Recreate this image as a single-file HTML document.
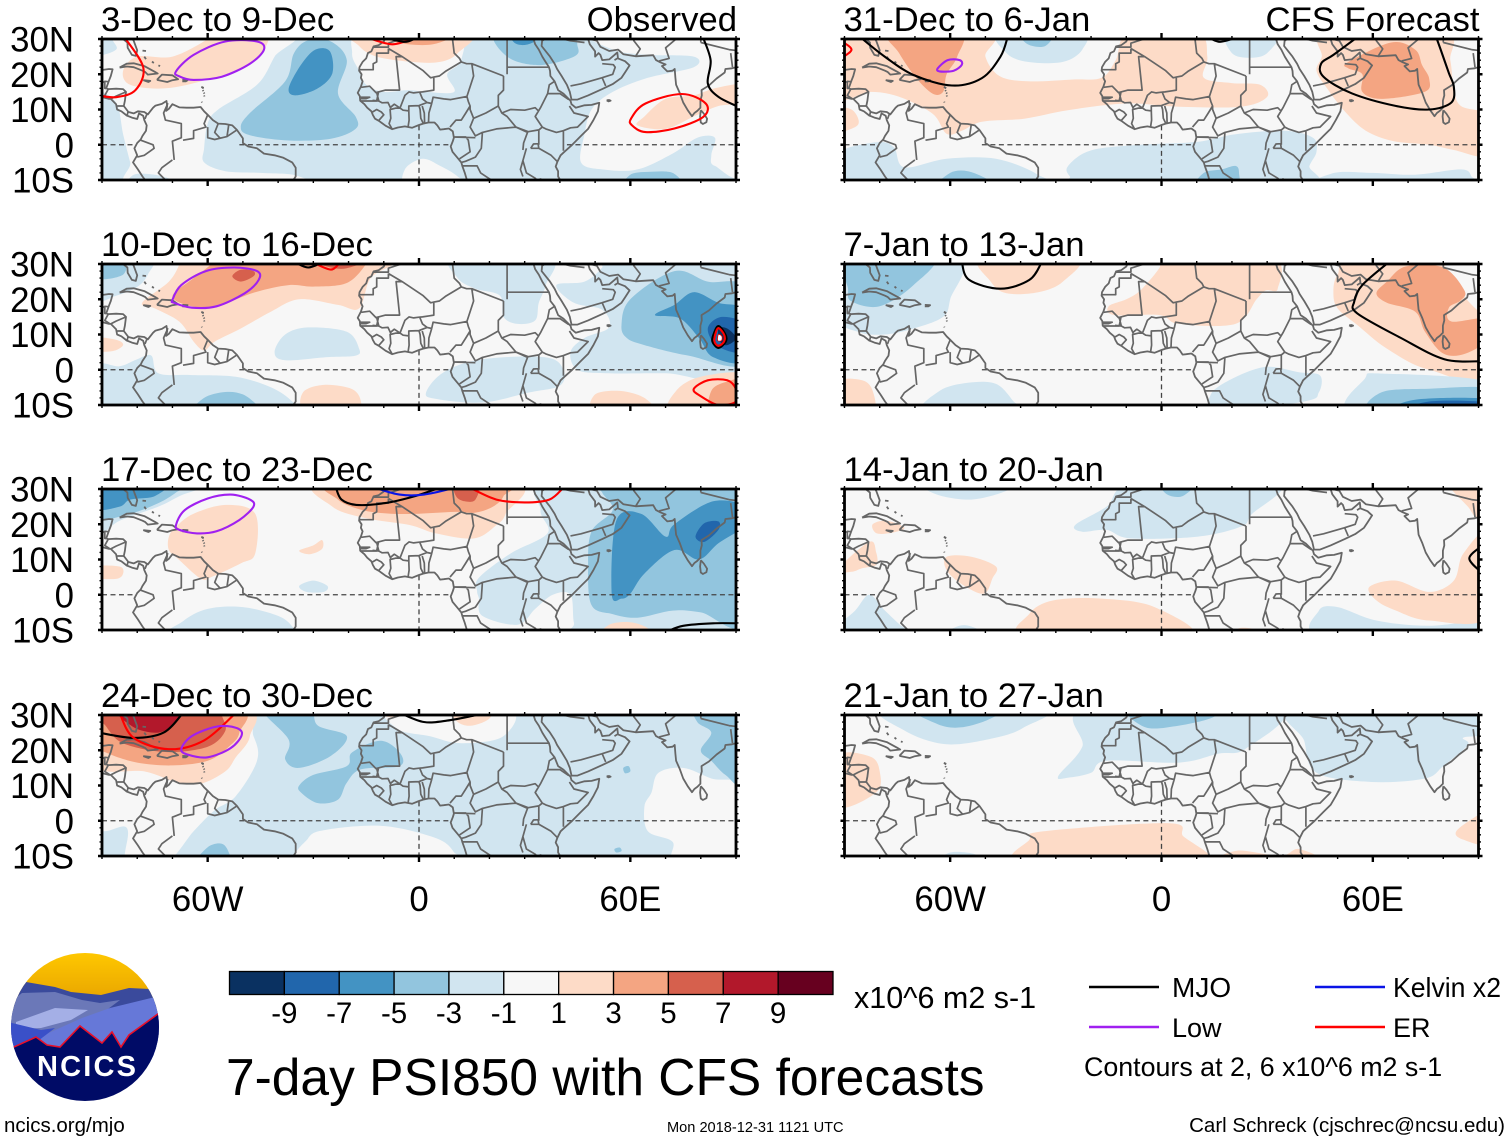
<!DOCTYPE html>
<html lang="en">
<head>
<meta charset="utf-8">
<title>7-day PSI850 with CFS forecasts</title>
<style>
html,body{margin:0;padding:0;background:#fff;}
svg{display:block;font-family:"Liberation Sans",sans-serif;}
</style>
</head>
<body>
<svg id="chart" xmlns="http://www.w3.org/2000/svg" width="1510" height="1142" viewBox="0 0 1510 1142">
<defs>
<linearGradient id="skyGrad" x1="0" y1="0" x2="0" y2="1"><stop offset="0" stop-color="#ffc800"/><stop offset="1" stop-color="#e39c00"/></linearGradient>
<clipPath id="logoClip"><circle cx="85" cy="1027" r="74"/></clipPath>
</defs>
<g id="panels"></g>
<g id="colorbar"></g>
<text x="854" y="1008" font-size="30.5">x10^6 m2 s-1</text>
<text x="226" y="1095" font-size="51.5">7-day PSI850 with CFS forecasts</text>
<g>
<line x1="1089" x2="1159" y1="987" y2="987" stroke="#000" stroke-width="2.4"/>
<text x="1172" y="997" font-size="28">MJO</text>
<line x1="1315" x2="1385" y1="987" y2="987" stroke="#0a14e6" stroke-width="2.4"/>
<text x="1393" y="997" font-size="28" textLength="108" lengthAdjust="spacingAndGlyphs">Kelvin x2</text>
<line x1="1089" x2="1159" y1="1027" y2="1027" stroke="#a020f0" stroke-width="2.4"/>
<text x="1172" y="1037" font-size="27">Low</text>
<line x1="1315" x2="1385" y1="1027" y2="1027" stroke="#ff0000" stroke-width="2.4"/>
<text x="1393" y="1037" font-size="27">ER</text>
<text x="1084" y="1076" font-size="26.8">Contours at 2, 6 x10^6 m2 s-1</text>
</g>
<g clip-path="url(#logoClip)">
<rect x="10" y="952" width="150" height="60" fill="url(#skyGrad)"/>
<polygon points="10,1000 26,982 55,987 71,992 101,995 129,988 150,989 162,1000 162,1060 10,1060" fill="#3a4a9c"/>
<polygon points="8,1004 22,993 55,992 82,1000 100,1003 120,1000 100,1015 60,1035 8,1042" fill="#6b78b8"/>
<polygon points="162,996 151,998 110,1008 82,1018 33,1040 8,1052 162,1060" fill="#6678d8"/>
<polygon points="16,1022 55,1008 88,1010 71,1020 41,1028 16,1029" fill="#a4afe6"/>
<polygon points="8,1022 41,1030 55,1028 30,1047 8,1050" fill="#3a50c8"/>
<polygon points="8,1047 14,1047 36,1037 47,1045 60,1047 80,1026 102,1043 112,1032 121,1047 129,1035 162,1011 162,1104 8,1104" fill="#000b66" stroke="#e8102a" stroke-width="1.6"/>
<text x="37" y="1076" font-size="29" font-weight="bold" fill="#fff" textLength="99" lengthAdjust="spacing">NCICS</text>
</g>
<text x="4" y="1132" font-size="20.5">ncics.org/mjo</text>
<text x="667" y="1132" font-size="14.6">Mon 2018-12-31 1121 UTC</text>
<text x="1505" y="1132" font-size="20.5" text-anchor="end">Carl Schreck (cjschrec@ncsu.edu)</text>
</svg>
<script>
/* ---------- axis / label data ---------- */
const lonTickLabels = [[-60,'60W'],[0,'0'],[60,'60E']];
const latTickLabels = [[30,'30N'],[20,'20N'],[10,'10N'],[0,'0'],[-10,'10S']];
const colorbarTicks = [-9,-7,-5,-3,-1,1,3,5,7,9];
const binValues = [-10,-8,-6,-4,-2,0,2,4,6,8,10];
const periodLabels = ['3-Dec to 9-Dec','10-Dec to 16-Dec','17-Dec to 23-Dec','24-Dec to 30-Dec','31-Dec to 6-Jan','7-Jan to 13-Jan','14-Jan to 20-Jan','21-Jan to 27-Jan'];

/* ---------- PSI850 shading: [bin value x10^6, lon,lat pairs]. Painted in order ---------- */
const shadeP1 = [
[-2,[-95,35,95,35,95,-15,-95,-15]],
[0,[-83,32,-37,32,-41,25,-46,17,-57,10,-60,6,-61,-1,-61,-5,-55,-7.5,-45,-8,-35,-8.7,-33,-12,-80,-12,-82,-5,-84,3,-86,12,-92,17,-92,24,-86,27]],
[-2,[-82,-12,-81,-8.5,-75,-8.5,-70,-10,-68,-12]],
[0,[-16,32,10,32,12,24,8,20,10,15,2,15,-3,15.5,-10,15,-15,17,-17,21,-19,26]],
[0,[-4,-7,1,-4,6,-6,11,-9,13,-12,-3,-12]],
[0,[50,32,55,27,65,25.5,78,25,78,22,65,19,55,15,49,10,47,3,46,-5,52,-7,62,-7,72,-2.5,79,2,84,2,83,-3,84,-6,93,-7,93,32]],
[2,[-84,21,-80,25,-70,25,-60,30,-59,32,-44,32,-44,27,-50,22,-60,18.5,-72,16,-82,17]],
[2,[-18,32,-17,28,-12,25,-2,23.5,6,23.5,11,26,14,32]],
[4,[-10,32,-6,29,4,28.5,10,32]],
[2,[64,8,62,5.5,70,4.5,78,8,85,11,92,12,92,17,84,16,78,14,70,13]],
[-4,[-50.6,5,-48,9,-38,18,-35.5,26,-31.5,29.6,-25,29.3,-20.5,24,-23,14.5,-18,8,-18,4.5,-25,1.7,-37,1.2,-48,2.7]],
[-6,[-37,16,-33.5,22.7,-29.4,27,-25.3,26.5,-24.6,20.3,-28.7,16,-35,14]],
[-4,[22,32,25,25,34,22.6,44,25,45,28,42,32]],
[-6,[26,32,27,29,30,28.3,33,29.5,33,32]],
[-4,[59,-12,60,-8.5,65,-7.7,72,-8,74,-12]]
];
const shadeP2 = [
[-2,[-92,32,-76,32,-77,27,-80,23.5,-86,21,-92,20]],
[-4,[-92,32,-84,32,-84,27,-92,26]],
[-2,[-92,1,-85,1,-80,3,-76,4,-74,-1,-65,-1.5,-52,-2,-42,-5,-36,-9,-35,-12,-92,-12]],
[-4,[-63,-12,-61,-8,-55,-6.3,-50,-7,-46,-10,-45,-12]],
[-2,[-41,5,-38,10,-31.5,12,-20.5,10.8,-17,6,-18,4,-26,3.6,-38,2.7]],
[-2,[10,32,11,26,16,23,23,21,24,15,28,13,33,14,34,19,36,24,37,32]],
[-2,[39,24,47,25,52,29,53,32,93,32,93,-1.5,70,-1,53,-1,45,0,43,5,47,9,54,12,52,17,44,19]],
[-2,[2,-6.5,7,-0.7,18,3,36,3.5,41,0,40,-4.5,31.5,-6.4,18,-9.3,5,-8.3]],
[-4,[57.5,12.6,60,20,72.5,28,82,25,93,23,93,2,76.5,4,64,7,59,9]],
[-6,[67,15.5,72.5,18.4,78,22,85,19,93,16.5,93,2.7,83.5,3.6,79.5,9,74,14.6]],
[-8,[82,11.7,86,15,93,12.7,93,5,85,6.5]],
[-10,[85,11.7,87.5,11.7,90,9,87.5,7,85.5,8]],
[2,[-78.6,19,-71,25,-68,30,-68,32,-6,32,-7,30,-13.7,26,-17,17.4,-23,18.4,-34,20,-42,16.5,-50.6,11.7,-58,8,-61,5.5,-64,8,-68,13.6,-75,17.4]],
[4,[-70,20.8,-64,26,-59,30,-59,32,-15,32,-15,30,-20.5,24.6,-30,23.6,-37,24,-46.5,22,-57.5,18,-64.5,18]],
[6,[-53,26.5,-50.6,28.4,-47,28,-47,26.5,-50.6,25]],
[6,[-30,31,-25,29,-20.5,28.8,-16,31]],
[2,[-92,9,-86,8.5,-84,7,-87,5.3,-92,5.5]],
[2,[-33,-6.5,-27,-4.3,-19,-5.5,-16.5,-9,-18,-12,-32,-12]],
[2,[50,-12,50,-7,57,-6,64,-8,66,-12]],
[2,[72,-12,73,-6,80,-2,93,-1.5,93,-12]],
[4,[83,-12,83,-6,87,-3.5,93,-3,93,-12]]
];
const shadeP3 = [
[-2,[-92,32,-60,32,-68,28,-74,25,-85,21,-92,17]],
[-4,[-92,32,-66,32,-69,29,-74,26,-82,23,-92,21.7]],
[-6,[-92,32,-72,32,-75,28,-82,27,-85,25,-92,24.5]],
[-2,[-70,-12,-67,-7.5,-60,-4,-50,-3.5,-40,-6,-36,-9,-35,-12]],
[-2,[-34,2.5,-30,4,-26,2.5,-27,0.8,-32,0.8]],
[-2,[38,32,34.5,24,36.5,17.5,26,11.7,17,4.8,16.5,1,17,-1,18,-6,28,-8.5,33,-4,38,0,43,0,44,-8,46,-12,93,-12,93,32]],
[-4,[49,-3,48,8,49,18,55,24,52,29,52,32,93,32,93,-7.5,80,-5,72,-4.5,62,-6.5,55,-5.5]],
[-6,[54.7,0.3,56,21,63,23,70,16.5,72.5,20,83.5,26.5,93,25,93,20,85,14.6,79.5,10,72.5,12.7,64,6,60,0.3,57.5,-1.1]],
[-8,[78.5,16.5,81,20.3,85,20.8,85,18.4,81,15]],
[2,[-71,16.5,-69,19.3,-64,23,-54.7,25.5,-46.5,23,-46.5,11.7,-50.6,8.9,-59,5,-62,4.6,-68,9.8,-71,12.7]],
[2,[-34,12.5,-30,14,-27.5,15.5,-27.5,13,-31,11.5]],
[2,[-92,8,-85,8,-84,6,-86,4.5,-92,5]],
[2,[-27,32,-24.6,25,-15,21.7,-2.7,19.8,4.8,17.4,15.7,16,22,19.8,24.6,23,26.7,32]],
[4,[-24,32,-23,27,-16,24,-8,23,0,23,10,23.5,16,23.3,21,25,24,28,24,32]],
[6,[10,32,10.5,28,13,26.5,16,27,17,32]],
[2,[52,-12,54,-8.5,60,-7.8,65,-9.5,66,-12]]
];
const shadeP4 = [
[-2,[-95,35,95,35,95,-15,-95,-15]],
[0,[-52,32,-47,24,-46,17,-52,7,-58,3,-64,-3,-72,-12,-83,-12,-83,-2,-92,-0.5,-92,32]],
[0,[-32,-12,-31.5,-5,-26,-2.5,-10,-1.5,5,-5,10,-9,10.5,-12]],
[0,[68,13.6,75,15,83,12,93,9,93,-12,73,-12,72,-6,65,-3,64,4,66,8]],
[0,[-8,32,-6,26,3,24,12,22,24,24,25,32]],
[-4,[-44.5,32,-37,23,-38,17.4,-34,15,-25,18.4,-20.5,24,-28.7,27,-31.5,32]],
[-4,[-34,10,-30,13,-20.5,15.5,-19,19.4,-11,22.7,-5.5,19.4,-5.5,15.5,-16.4,14.6,-20.5,10.8,-23,6,-28.7,5,-33.5,8]],
[-4,[79,32,79,28,83,25,80,20,83,17,87,13,93,10,93,32]],
[-4,[58,15,59.5,15.5,60,14,58.5,13.5]],
[-4,[-63,-12,-60,-7.5,-56,-6.5,-54,-9,-54,-12]],
[-4,[55.5,-8,57,-7.6,57.5,-8.6,56,-9]],
[2,[-92,32,-50,32,-48,24,-52,18,-55,14,-62,10.5,-69,11,-78,14,-92,15.5]],
[4,[-92,32,-52,32,-51,25,-54,21,-60,17,-70,15.7,-80,16.5,-88,19,-92,22]],
[6,[-89,27,-84,22,-72,19.5,-60,21,-55,25.5,-56,30,-56,32,-92,32]],
[8,[-85.5,32,-81,26.5,-74,25,-70,27.5,-68,32]],
[2,[9,32,11,28,15,27,20,29,20,32]],
[2,[-11,32,-9,29.5,-5,30,-5,32]]
];
const shadeF1 = [
[2,[-92,32,-50,32,-50,25,-46,19.5,-38,18,-25,18.5,-17,19,-13,24,-9,32,10,32,13,25,12,19,20,17.5,28,17,30,13.6,22.7,10.8,5,10.8,-10,11.7,-26.6,9.8,-39,7.4,-51,6.5,-56.7,4,-61,3.1,-65,8.8,-74.5,13.6,-82.7,15,-92,13.6]],
[2,[-92,10,-88,10,-86,7,-87,5,-92,4]],
[2,[45.5,25,47,32,80,32,82,24,83,16,85,11,93,8,93,-3,83,-1.5,76,0,66,1,58,4,52,9.5,47,16,44,21]],
[4,[52.9,23.4,65.2,29,72,27,74,22.6,76,18.7,74.7,15,62.5,13,57,15,57,20,53,21.7]],
[4,[-77.3,32,-74.5,26,-69.7,19,-65,14.5,-62,15,-61,20,-58,25,-57.4,32]],
[-2,[-46,32,-44,26,-38,23.5,-28,23.5,-22.5,27,-23,32]],
[-4,[-40,32,-38,28.5,-33,28,-31,32]],
[-2,[18.6,32,20,26,25,24.7,30,26,33,32]],
[-2,[-92,-2.6,-81,0.7,-76,-0.7,-73,-6.4,-61,-4,-47,-4,-35.5,-8.3,-35,-12,-92,-12]],
[-4,[-63,-12,-60,-8,-55,-7.5,-49,-10,-48,-12]],
[-2,[-26.5,-6,-20,-1.6,-6,0,10,0.8,21,3,35,4,43,2,44,-2,42,-6,40,-12,-22,-12,-26,-9]],
[-4,[10,-12,12,-8,17,-7,21,-6,22,-8,21,-12]],
[-2,[45,-12,49,-8,60,-8,72,-8.5,85,-7,88,-9,88,-12]]
];
const shadeF2 = [
[-2,[-92,32,-58,32,-60,20,-62,15,-70.4,11.7,-78.6,10,-86,10.7,-92,15]],
[-4,[-89,32,-89,23,-88,19.4,-80,18,-70.4,24,-65,32]],
[2,[-51,32,-48.5,25,-44,21.7,-35,22,-28,25,-24,32]],
[2,[-15,18,-10,20,-6,22.5,-0.5,29,0,32,31,32,33,23,29.6,22.5,27,20,21,13,5,13,-0.5,15.5,-13.5,15.5]],
[2,[48.8,22,50,27,55.6,32,93,32,93,-1,76,0,64,6,55.6,12.7,50,17.4]],
[0,[80,33,85,22,93,16,93,33]],
[4,[61,21.7,64,25,69.3,29.3,80,29,86,22.5,85,19.7,81.6,17.6,82.3,13.7,93,14.6,93,9,86.4,4.6,80,4.6,74.8,10.8,72,16.5,64,19]],
[2,[-92,-12,-92,-3.5,-85,-3,-82,-6,-82,-12]],
[-2,[-67,-12,-63,-6,-55,-3.7,-47,-4,-42,-9,-40,-12]],
[-2,[14,-7,20,-2.6,29.6,0.8,39,-0.7,45,-1.6,44.7,-6.4,40.5,-9,16,-12]],
[-2,[54,-12,57.7,-2.6,62.5,-1.1,93,-3.5,93,-12]],
[-4,[60.4,-12,62.5,-6.4,76,-5.4,93,-5.4,93,-12]],
[-6,[66.6,-12,72,-8.5,93,-8.3,93,-12]],
[-8,[70,-12,76,-9,93,-9.3,93,-12]]
];
const shadeF3 = [
[-2,[-67,32,-64,28.5,-54,27,-44,29.5,-43,32]],
[-2,[-24.5,19.8,-15.6,25,-7,32,33,32,25.5,22.7,22.7,19.4,10.4,16.5,-8.8,16,-15.6,18.4,-22.5,17.9]],
[-4,[0,32,1.5,28.5,6,28,9.5,32]],
[2,[-82,20,-78,21,-73,19,-77,17.5,-81,17.5]],
[2,[-92,7,-83,15,-81,12,-81,8.5,-85,7.5,-88,6.5]],
[2,[-61,10.8,-54,10.8,-47,8,-48,4.6,-50.5,0.3,-56.7,3,-61,7]],
[2,[-38,-12,-37.5,-5.4,-30.7,-1.6,-17,-1.1,-2,-3.5,7.7,-12]],
[2,[20,-12,22,-9.5,27,-10,27,-12]],
[-2,[-92,-9,-87,-4.5,-83,0,-79,-4,-74.5,-8.3,-70.5,-12,-92,-12]],
[-2,[-62,-12,-58,-9,-54,-9,-49,-12]],
[-2,[44.7,-4.5,50,-3.5,61,-7.3,76,-8.8,93,-7.3,93,-12,46,-12]],
[2,[59,2.2,66.6,4,76,0.8,83,4,85.7,11.7,93,17.4,93,-6,76,-7.3,66.6,-4.5,61,-1.6]],
[2,[81.6,32,87,25,90,22,93,32]]
];
const shadeF4 = [
[-2,[-78,32,-73,25.6,-61,21.7,-47,23.6,-39,26.5,-33.4,32]],
[-4,[-70,32,-63.5,27.4,-56.7,26.5,-48.5,29,-46,32]],
[-2,[-29.3,12.7,-22.5,21,-21,32,33,32,24,20.5,16,19,5,16.5,-15.6,17,-20,13.6,-26.6,12.2]],
[-4,[-8.8,32,-4.6,26.5,5,27,14.5,29.3,16,32]],
[-2,[38.5,32,40.5,22.7,44,13.6,59.7,11,74.8,12,80,15.5,87,21.5,85.7,23.6,93,25,93,32]],
[2,[-92,4,-92,18.2,-82.7,18.2,-80,14,-81,8]],
[-2,[-63,-12,-60,-9,-53,-9.5,-52,-12]],
[2,[-39,-12,-37.5,-5.4,-33.4,-3,2.2,-0.7,6.3,-4.5,13.2,-9.3,14,-12]],
[2,[16.5,-12,21.4,-8.5,33.7,-10,39,-8,45,-12]],
[2,[83.7,-3,90,1.7,93,3,93,-6.5,85.8,-5.4]]
];
const panelShades = [shadeP1,shadeP2,shadeP3,shadeP4,shadeF1,shadeF2,shadeF3,shadeF4];

/* ---------- wave contours: [wave, closed, lon,lat pairs] ---------- */
const contourP1 = [
['er',0,[-84,31,-78.3,22,-80.5,15.5,-86,13.5,-91,14]],
['low',1,[-69,20.8,-64,25.5,-55,29.3,-46,29.3,-44,27,-48,23,-56,19.3,-64,18.4,-68,19.4]],
['er',0,[-14.4,30.3,-7.5,28.5,-1.4,30.3]],
['mjo',0,[-9,30.2,-4,29.2,-1,30.2]],
['er',1,[60.2,7.4,64.3,11.7,74.6,14.4,81.4,11.7,80.7,7.9,72.5,4.6,64.3,3.6,60.5,5.5]],
['mjo',0,[80.4,31,82.8,24,82,17.4,85,13.6,91,10.6]]
];
const contourP2 = [
['low',1,[-70,19.8,-67.5,24,-60.5,28,-52.5,29,-46,28,-45.5,25.5,-49.5,21.7,-57.5,18,-64.5,17.6,-69.5,19]],
['mjo',0,[-35,30.4,-31.5,29,-27.5,30.4]],
['er',0,[-30,30.4,-25,28.4,-22.5,30.4]],
['er',1,[78,-5.5,82,-3,87.5,-3,90,-5.5,90,-9,85,-10,80,-7.5]],
['mjo',1,[85,12.4,87,10,87.1,8,85,6.2,83.3,8,83.6,10]],
['er',1,[85,11.8,86.6,10,86.6,8,85,6.8,83.9,8,84.1,10]],
['white',1,[85,10,86,9.5,85.9,8.3,84.8,8.3]]
];
const contourP3 = [
['low',1,[-69,19.8,-66.5,24,-60,27.3,-53.5,28.4,-48,27,-47,25,-51,21.2,-57.5,18,-63,17.4,-68,18.4]],
['mjo',0,[-23.6,30.4,-22,27,-17.8,25.5,-9.6,26,-1.4,27.9,6,30.4]],
['kelvin',0,[-12.3,30.3,-5.5,28.4,1.4,28.4,10,30.3]],
['er',0,[14.4,30.4,22,27,30,26.2,37,27,41,30.4]],
['mjo',0,[70.5,-10.4,75,-8.8,83.5,-8.1,91,-8.1]]
];
const contourP4 = [
['mjo',0,[-91,25,-81,23.5,-72.5,25,-67,30.6]],
['er',0,[-85,30.6,-81,23.5,-71,20.3,-61,22.8,-52,30.6]],
['low',1,[-67.5,20.3,-64.5,24,-57.5,26.7,-52,26.4,-50.3,24.4,-53.5,20.6,-60,18,-65.5,18.7]],
['mjo',0,[-4.8,30.3,1.4,28,8,28.4,16,29.9]]
];
const contourF1 = [
['er',0,[-91,29.5,-88,27,-91,24.5]],
['mjo',0,[-85.5,30.5,-78.6,25,-70.4,19.8,-59.5,16.8,-51,18.9,-45.7,25,-43.7,30.5]],
['low',1,[-63.5,21.7,-60.7,24,-57.3,24,-56.7,22.7,-59,21,-63,20.8]],
['mjo',0,[13.8,30.2,16.6,29.2,20.7,30.2]],
['mjo',0,[55.6,30.5,48.8,25.5,45.3,23,46,19.3,54,14.6,66.6,11,76,10,82.3,12,83,16.5,81.6,20.3,79.6,26,78,30.5]]
];
const contourF2 = [
['mjo',0,[-56.7,30.5,-54.6,25.5,-45.7,23,-37.5,25.5,-34,30.5]],
['mjo',0,[64.5,30.5,57,24,54.7,19.3,55.6,16,68,9,80.3,3,91,2.4]]
];
const contourF3 = [
['mjo',0,[91,13.9,87.4,10.3,91,6.2]]
];
const contourF4 = [];
const panelContours = [contourP1,contourP2,contourP3,contourP4,contourF1,contourF2,contourF3,contourF4];

/* ---------- geography: lon,lat polylines ---------- */
const coastLines = [
[-9.7,30,-10,29.3,-11.5,28.2,-12.9,27.9,-13.5,26.5,-14.5,26,-15,24.5,-16,23.5,-16.9,22,-17,21,-16.3,20,-16.5,19,-16,18,-16.5,16.5,-17.4,14.7,-16.8,13.8,-16.7,12.5,-15.5,11.5,-14.7,10.5,-13.5,9.5,-13.1,8.4,-12.5,7.4,-11.4,6.8,-9.5,5.4,-7.6,4.4,-6,4.9,-4,5.2,-2,4.8,0,5.6,1.2,6,2.7,6.3,4.4,6.3,5.2,5.5,6,4.3,7,4.4,8.5,4.6,9.6,3.8,9.9,2,9.6,1,9,-0.5,9.5,-2,11,-3.8,12,-5,12.3,-6,13,-8,13.6,-10,13.8,-11],
[32.5,30,33,28.5,34,27,35,25,35.7,23.9,36.9,22,37.2,21,37.3,19.5,38.5,18,39.5,15.5,41,14.5,43,12.5,43.3,11.5,44.5,10.5,47,11.2,49,11.3,51.2,11.9,50.8,9.5,49.5,7,48,4.5,46,2.5,43.5,0,41.5,-1.8,40.2,-3,39.3,-4.8,38.8,-6.2,39.5,-7.5,39.5,-9,40.4,-10.5,40.6,-11],
[35,30,34.8,28,36,26.5,37.2,25,38.5,23,39.2,21.5,40.5,19.5,42,17,42.8,15,43.3,12.8,45,12.8,48,14,52,15.8,55,17.2,57.5,19,58.5,20.5,59.8,22.5,58.5,23.7,56.5,24.5,56.3,26.2,55.5,25.5,54,24.2,52,24,51.5,25.5,51,26,50,25,50,26.5,48.5,28.5,48,30],
[48.5,30,50.5,29.5,51.5,27.8,54,26.6,56.5,27,58,25.7,61.5,25.1,66.5,25.4,67.3,24,68.5,23.4,70,22.8,69,22.3,70.5,20.8,72,21,72.6,21.5,72.8,19,73,17,74,14.8,75,12,76.3,9.8,77.5,8.1,78.2,9,79,9.6,79.9,10.5,79.9,12.5,80.3,14,80.2,15.5,82.3,16.8,84.5,18.8,86.8,20.5,87,21.5,88.9,21.7,90,22,91,22.6],
[80,9.8,80.9,8.8,81.8,7.4,81.6,6.4,80.6,5.9,80,6.3,79.8,8,80,9.8],
[53.3,12.6,54,12.7,54.4,12.5,53.8,12.3,53.3,12.6],
[-91,21,-90,21.2,-88,21.5,-87,21.4,-87.5,19.5,-88,18.2,-88.8,16,-88.2,15.8,-86,15.9,-84,15.8,-83.2,15,-83.5,12.5,-83.8,11,-82.5,9.3,-81,8.9,-79.8,9.5,-78,9.3,-77,8.6,-75.5,10.5,-74.8,11.1,-73,11.6,-71.7,12.4,-71.5,11,-71.8,9.6,-71,10.2,-70,11.5,-68,10.6,-66,10.5,-64,10.5,-62,10.7,-61,9.5,-60,8.5,-58.5,7,-57,6,-55,5.9,-53,5.5,-51.7,4.2,-50,1.8,-50,0.5,-48.5,-0.5,-46,-1,-44,-2.5,-41,-3,-38.5,-3.7,-36,-5,-35,-6.5,-35,-9,-36,-10.5,-37,-11],
[-91,13.8,-88,13,-87.5,13,-86,11.5,-85.7,10,-84.5,9.5,-83,8.3,-81.5,7.7,-80,7.3,-79.5,8.9,-78.3,8.2,-78,7,-77.3,5.5,-77.5,4,-78.5,2.5,-79,1.5,-80,0.5,-80.8,-1,-80,-3,-81.2,-5,-79.8,-7,-78.5,-9,-77,-11],
[-84,30,-82.8,29,-82.7,27.5,-81.5,25.5,-80.4,25.2,-80,26.8,-81,29.5,-81.3,30],
[-91,29.2,-89.2,30],
[-85,21.9,-83,23,-81,23.1,-78,22.3,-75,20.7,-74.2,20.2,-77,19.9,-77.7,20.6,-78.5,21,-81,22,-83,22.2,-85,21.9],
[-74.4,18.4,-73,19.9,-70,19.7,-68.4,18.6,-70,18.3,-71.5,17.8,-74.4,18.4],
[-78.3,18.3,-76.3,18.1,-76.8,17.8,-78.3,18.3],
[-67.2,18.4,-65.7,18.3,-66.2,18,-67.2,18],
[-61.8,16.4,-61.3,16.2,-61.5,15.9],[-61.4,15.5,-61.2,15.2],[-61.1,14.8,-60.9,14.5],[-61,14,-60.9,13.7],[-61.7,12.2,-61.6,12],
[-78.5,26.7,-77.5,26.6],[-78,25,-77.5,24.3],[-75.8,23.6,-75.3,23.2],[-74,22.5,-73.5,22.3]
];
const borderLines = [
[-13,27.7,-8.7,27.7,-8.7,28.8,-5,30],
[-17,21.3,-13,21.3,-13,23,-12,23.5,-12,26,-8.7,26,-8.7,27.3],
[-8.7,27.3,-4.8,25,-6.5,25,-5.5,15.5,-9.5,15.5,-11.5,15,-12.2,14.8,-14,16.6,-16.4,16.3],
[-4.8,25,1.2,21,3.3,19,4.2,19.2,5.8,19.5,7.5,20.8,12,23.5,13.5,23,15,23,24,19.5],
[9.5,30,10,26,11.5,24.5,12,23.5],
[25,30,25,20],[25,22,37,22],
[4.2,19.2,4.2,15.5,3,15.3,1,15,0,14.9,-1.5,14.7,-2.8,15,-4,14,-5.4,10.4],
[-5.4,10.4,-4.5,9.8,-2.9,9.6,-2.9,11,0,11.1,2.3,12,1,13,0.2,14.9],
[3.6,11.7,4,13.5,7,13,9,12.8,13.6,13.7,14,12.3,14.5,11,13.3,9,12,7,10.5,7,8.8,5],
[2.7,6.3,2.8,9,3.6,11.7],[2.3,12,3.6,11.7],[1.6,6.2,1.5,9,0.9,11],
[-3.1,5.1,-2.8,7,-2.9,9.6],[1.2,6.1,0.5,7.5,0.3,10,0,11.1],
[-7.6,4.4,-8.5,6,-8,7.5,-8.2,10,-6.5,10.4,-5.4,10.4],
[-13.2,12.6,-11.4,12.4,-10.5,11.9,-8.8,12,-8,10.3],
[-13.2,9.3,-12,10,-10.7,9.3,-10,8.5,-11.4,6.9],
[-16.7,12.4,-12,12.4,-11.5,15],[-12,14.8,-11.4,12.4],[-8.2,10.5,-7,11.5,-5.4,10.4],
[-16.7,13.5,-14,13.5,-15,13.1,-16.7,13.1],
[15,23,15.5,19.5,13.6,13.7],[24,19.5,24,15.5,22.5,14,22.5,11,19,9,15.5,7.5,14.5,10,14.5,11],
[15.5,7.5,14.5,5,16,2.5,18,3.5,22,4.5,27.5,5,25,8,23.5,9,22.5,11],
[38.5,18,37,17,36.5,14.5,34.5,10.5,33,8,35,5,36,4.5,39,3.5,41,4,43,4.8,45,5,48,8,44,9,42.7,11],
[36.5,14.5,40,14.5,42.5,12.8],[23.5,9,26,10,30,9.8,33,10.5,34,9.5],[27.5,5,31,3.7,34,4.2,35,5],
[41,4,41,-1.7],[34,4.2,34,0],[31.7,-1,34,-1,33.8,0.3,32.5,0.2,31.7,-1],[34,-1,37.5,-3,39.2,-4.7],
[30.5,-1,29.5,-4.5,30.5,-8,33,-9.5,34.5,-11.4],[27.5,5,30.8,3.5,29.7,0.5,29.5,-1.5],
[18,3.5,17.7,-1,16,-3.5,13.2,-4.7,12,-5],[9.8,2.2,13.3,2.2,14,1.3,14.5,-2,11.5,-4],[9.8,2.2,16,2],
[12.2,-6,16.5,-6,17.5,-8,22,-11],[29.5,-4.5,28.8,-7,29.5,-9],[34.5,-9.5,34.5,-11],
[43,16.7,46,17.3,51.9,19,55,20,55.7,22,55.2,22.7,52,23],[53,16.7,52,19],[56.3,24.5,55.5,24],
[34.9,29.4,37,31],[37,31,43,29.5,47,29],[61.5,25.1,62.8,27.2,61,29.5,60.8,30],
[68.2,23.8,71,24.5,70,27.5,73,30],[88.5,26,89,22],[80,29,88,27],[80,30,80,29],[88,27,92,26.5],[92,21,90,24],
[-71.3,11.8,-72.5,9,-72,7,-67.5,6,-67.5,2,-70,1,-69.5,-4.3],
[-60,8.5,-61,6,-60.5,5,-64,4,-64,1.8,-67,1.3],[-57,6,-58,3.5,-56.5,1.9],[-60,5,-60,2,-58,1.5,-54.5,2.3,-51.7,4.2],
[-54,5.8,-54.5,2.3],[-79,1.3,-75.5,0,-75.2,-1,-78,-3,-80,-3.5],[-70,-4.3,-73,-6.5,-74,-8,-72,-10,-70,-11],
[-77.3,8.6,-77.8,7.3],[-88.2,15.8,-89.2,14,-87.7,13],[-83.2,15,-86,13.8,-87.5,13],[-83.7,11,-85.7,11],[-82.6,9.5,-82.9,8.1],
[-88.2,17.9,-89.2,18,-89.2,16,-88.9,15.9],[-91,17.8,-89.2,17.8]
];
/* land-masked sections of the grid lines, in degrees */
const equatorSegments = [[-90,-81],[-51,9],[42,90]];
const meridianSegment = [5.5,-10];

/* ---------- layout & styling ---------- */
const SVGNS = 'http://www.w3.org/2000/svg';
const panelsRoot = document.getElementById('panels');
const colLeft = [102,844.5];
const rowTop = [39,264,489,715];
const pW = 634, pH = 141;
const palette = {'-10':'#0a3161','-8':'#2166ac','-6':'#4393c3','-4':'#92c5de','-2':'#d1e5f0','0':'#f7f7f7','2':'#fddbc7','4':'#f4a582','6':'#d6604d','8':'#b2182b','10':'#67001f'};
const waveColor = {mjo:'#000000',kelvin:'#0a14e6',low:'#a020f0',er:'#ff0000',white:'#ffffff'};

function el(tag,attrs,parent){
  const e=document.createElementNS(SVGNS,tag);
  for(const k in attrs)e.setAttribute(k,attrs[k]);
  if(parent)parent.appendChild(e);
  return e;
}
function makeAxes(left,top){
  return {
    x:function(lon){return left+(lon+90)*pW/180;},
    y:function(lat){return top+(30-lat)*pH/40;}
  };
}
function project(flat,ax){
  const pts=[];
  for(let i=0;i<flat.length;i+=2)pts.push([ax.x(flat[i]),ax.y(flat[i+1])]);
  return pts;
}
function smoothPath(pts,closed){
  const n=pts.length;
  const at=function(i){return closed?pts[(i+n)%n]:pts[Math.max(0,Math.min(n-1,i))];};
  let d='M'+pts[0][0].toFixed(1)+' '+pts[0][1].toFixed(1);
  const last=closed?n:n-1;
  for(let i=0;i<last;i++){
    const p0=at(i-1),p1=at(i),p2=at(i+1),p3=at(i+2);
    const c1x=p1[0]+(p2[0]-p0[0])/6,c1y=p1[1]+(p2[1]-p0[1])/6;
    const c2x=p2[0]-(p3[0]-p1[0])/6,c2y=p2[1]-(p3[1]-p1[1])/6;
    d+='C'+c1x.toFixed(1)+' '+c1y.toFixed(1)+' '+c2x.toFixed(1)+' '+c2y.toFixed(1)+' '+p2[0].toFixed(1)+' '+p2[1].toFixed(1);
  }
  return d+(closed?'Z':'');
}
function polyPath(lines,ax){
  let d='';
  lines.forEach(function(l){
    const p=project(l,ax);
    d+='M'+p.map(function(q){return q[0].toFixed(1)+' '+q[1].toFixed(1);}).join('L');
  });
  return d;
}

function drawPanel(idx,col,row){
  const left=colLeft[col],top=rowTop[row];
  const ax=makeAxes(left,top);
  const g=el('g',{},panelsRoot);
  
  

  const clip=el('clipPath',{id:'clip'+idx},g);
  el('rect',{x:left,y:top,width:pW,height:pH},clip);
  const body=el('g',{'clip-path':'url(#clip'+idx+')'},g);
  const bg=el('rect',{x:left,y:top,width:pW,height:pH,fill:palette['0']},body);
  
  

  panelShades[idx].forEach(function(s){
    const shade=el('path',{d:smoothPath(project(s[1],ax),true),fill:palette[String(s[0])]},body);
    
    
  });

  const grid=[];
  equatorSegments.forEach(function(seg){grid.push('M'+ax.x(seg[0])+' '+ax.y(0)+'L'+ax.x(seg[1])+' '+ax.y(0));});
  grid.push('M'+ax.x(0)+' '+ax.y(meridianSegment[0])+'L'+ax.x(0)+' '+ax.y(meridianSegment[1]));
  const gridPath=el('path',{d:grid.join(''),fill:'none',stroke:'#444','stroke-width':1.3,'stroke-dasharray':'5 3.5'},body);
  
  

  const borders=el('path',{d:polyPath(borderLines,ax),fill:'none',stroke:'#666','stroke-width':1.7,'stroke-linejoin':'round'},body);
  
  
  const coast=el('path',{d:polyPath(coastLines,ax),fill:'none',stroke:'#666','stroke-width':1.8,'stroke-linejoin':'round'},body);
  
  

  panelContours[idx].forEach(function(c){
    const isWhite=c[0]==='white';
    const line=el('path',{d:smoothPath(project(c[2],ax),!!c[1]),fill:isWhite?'#fff':'none',stroke:isWhite?'#e00':waveColor[c[0]],'stroke-width':isWhite?0.8:2.1},body);
    
    
  });

  /* ticks */
  let minor='',major='';
  for(let lon=-90;lon<=90;lon+=10){
    const isMajor=lon%60===0;
    const len=isMajor?6:3;
    const seg='M'+ax.x(lon)+' '+top+'v'+(-len)+'M'+ax.x(lon)+' '+(top+pH)+'v'+len;
    if(isMajor)major+=seg;else minor+=seg;
  }
  for(let lat=-10;lat<=30;lat+=2){
    const isMajor=lat%10===0;
    const len=isMajor?4:2.5;
    const seg='M'+left+' '+ax.y(lat)+'h'+(-len)+'M'+(left+pW)+' '+ax.y(lat)+'h'+len;
    if(isMajor)major+=seg;else minor+=seg;
  }
  const minorT=el('path',{d:minor,stroke:'#000','stroke-width':1.4,fill:'none'},g);
  
  
  const majorT=el('path',{d:major,stroke:'#000','stroke-width':2.4,fill:'none'},g);
  
  
  const frame=el('rect',{x:left,y:top,width:pW,height:pH,fill:'none',stroke:'#000','stroke-width':2.8},g);
  
  

  /* title */
  const t=el('text',{x:left-1,y:top-8,'font-size':34.7},g);
  t.textContent=periodLabels[idx];
  
  

  if(col===0){
    latTickLabels.forEach(function(l){
      const lab=el('text',{x:74,y:ax.y(l[0])+12.5,'font-size':34.8,'text-anchor':'end'},g);
      lab.textContent=l[1];
      
      
    });
  }
  if(row===3){
    lonTickLabels.forEach(function(l){
      const lab=el('text',{x:ax.x(l[0]),y:911,'font-size':34.8,'text-anchor':'middle'},g);
      lab.textContent=l[1];
      
      
    });
  }
}
for(let i=0;i<8;i++){drawPanel(i,i<4?0:1,i%4);}

const sideTitles=[['Observed',0],['CFS Forecast',1]];
sideTitles.forEach(function(s){
  const t=el('text',{x:colLeft[s[1]]+pW+1,y:rowTop[0]-8,'font-size':34.7,'text-anchor':'end'},panelsRoot);
  t.textContent=s[0];
  
  
});

/* colorbar */
const cbRoot=document.getElementById('colorbar');
const cbLeft=229.5,cbW=603.5,cbTop=971.5,cbH=23;
function cbX(v){return cbLeft+(v+11)/22*cbW;}
binValues.forEach(function(v){
  const box=el('rect',{x:cbX(v-1),y:cbTop,width:cbW/11,height:cbH,fill:palette[String(v)],stroke:'#000','stroke-width':1.3},cbRoot);
  
  
});
colorbarTicks.forEach(function(v){
  const lab=el('text',{x:cbX(v),y:1023,'font-size':29.5,'text-anchor':'middle'},cbRoot);
  lab.textContent=String(v);
  
  
});
</script>
</body>
</html>
